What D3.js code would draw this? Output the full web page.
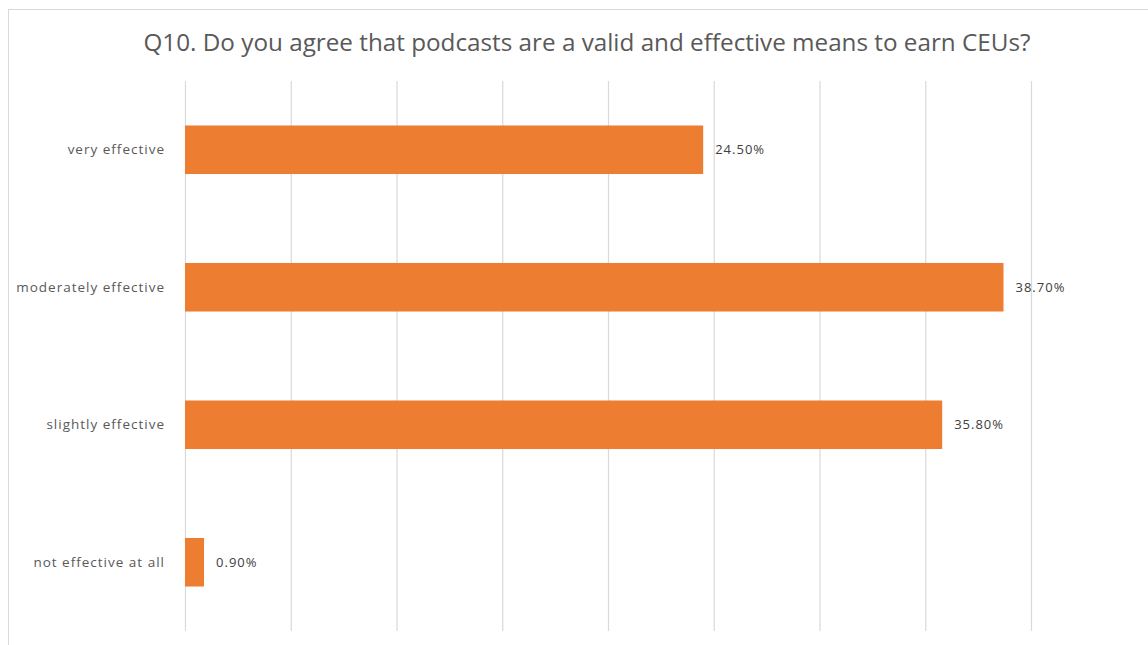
<!DOCTYPE html>
<html>
<head>
<meta charset="utf-8">
<script src="https://cdn.jsdelivr.net/npm/d3@7"></script>
<style>
  html, body { margin: 0; padding: 0; background: #fff; }
  svg { display: block; }
</style>
</head>
<body>
<svg id="chart" width="1148" height="645"></svg>
<script>
// Survey responses, Q10
const categories = ["very effective", "moderately effective", "slightly effective", "not effective at all"];
const percentages = [24.5, 38.7, 35.8, 0.9];
const xTicks = [0, 5, 10, 15, 20, 25, 30, 35, 40];
const titleText = "Q10. Do you agree that podcasts are a valid and effective means to earn CEUs?";

const svg = d3.select("#chart");
const W = 1148, H = 645;
const margin = { top: 81, right: 117, bottom: 14, left: 185 };
const plotW = W - margin.left - margin.right;
const plotH = H - margin.top - margin.bottom;

// Chart frame
svg.append("rect")
  .attr("x", 8.5).attr("y", 9.5)
  .attr("width", W + 10).attr("height", H + 10)
  .attr("fill", "#fff").attr("stroke", "#d9d9d9").attr("stroke-width", 1);

// Title
const title = svg.append("text")
  .attr("x", 587).attr("y", 51)
  .attr("text-anchor", "middle")
  .attr("fill", "#595959")
  .style("font-family", "'Open Sans', sans-serif")
  .style("font-size", "20px")
  .text(titleText);
// fit the title to its intended width
const tw = title.node().getComputedTextLength();
title.style("font-size", (20 * 887 / tw).toFixed(2) + "px");

const x = d3.scaleLinear().domain([0, 40]).range([0, plotW]);
const y = d3.scaleBand().domain(categories).range([0, plotH])
  .paddingInner(0.647).paddingOuter(0.3235);

const g = svg.append("g").attr("transform", `translate(${margin.left},${margin.top})`);

// Vertical gridlines
const grid = g.append("g")
  .call(d3.axisBottom(x).tickValues(xTicks).tickSize(plotH).tickFormat(""));
grid.select(".domain").remove();
grid.selectAll(".tick line").attr("stroke", "#d9d9d9").attr("stroke-width", 1.2);

// Bars
g.selectAll("rect.bar")
  .data(categories)
  .join("rect")
  .attr("class", "bar")
  .attr("x", x(0))
  .attr("y", d => y(d))
  .attr("width", (d, i) => x(percentages[i]) - x(0))
  .attr("height", y.bandwidth())
  .attr("fill", "#ED7D31");

// Value labels
g.selectAll("text.val")
  .data(categories)
  .join("text")
  .attr("class", "val")
  .attr("x", (d, i) => x(percentages[i]) + 12)
  .attr("y", d => y(d) + y.bandwidth() / 2)
  .attr("dy", "0.35em")
  .attr("fill", "#404040")
  .style("font-family", "'Open Sans', sans-serif")
  .style("font-size", "13px")
  .style("letter-spacing", "1px")
  .text((d, i) => percentages[i].toFixed(2) + "%");

// Category axis labels
const yAxis = g.append("g")
  .call(d3.axisLeft(y).tickSize(0).tickPadding(20));
yAxis.select(".domain").remove();
yAxis.selectAll(".tick text")
  .attr("fill", "#595959")
  .style("font-family", "'Open Sans', sans-serif")
  .style("font-size", "13.5px")
  .style("letter-spacing", "1px");
</script>
</body>
</html>
